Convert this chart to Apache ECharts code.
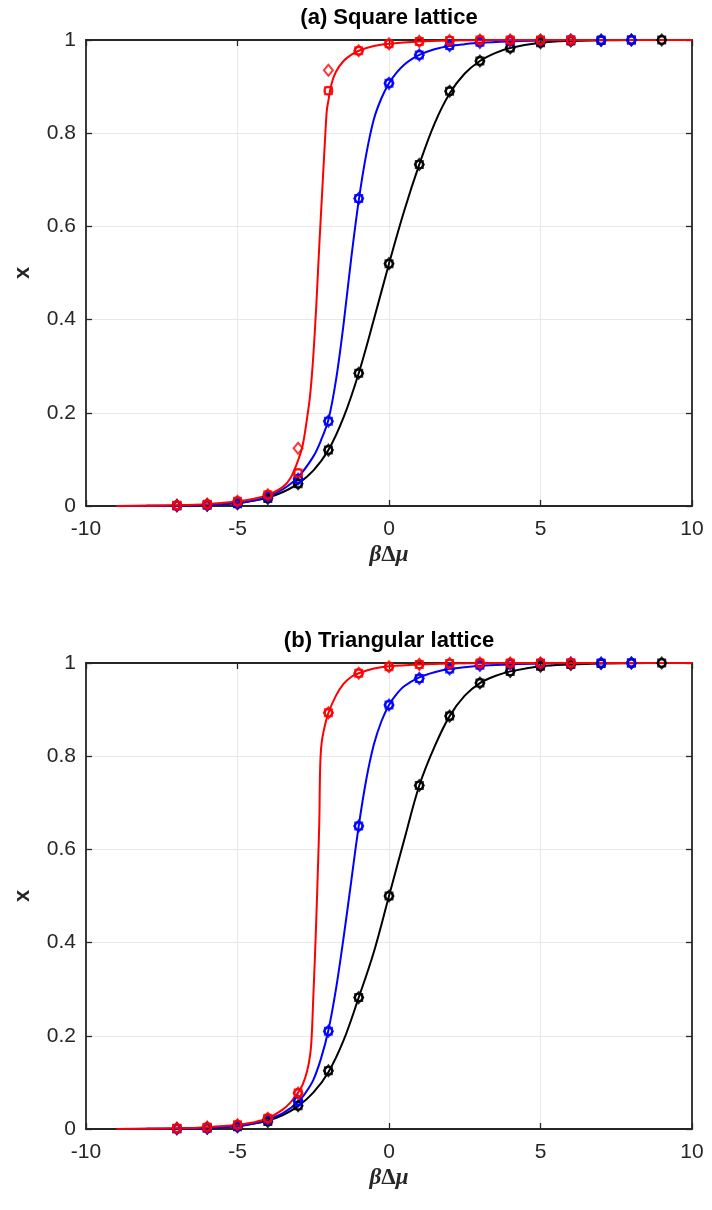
<!DOCTYPE html>
<html>
<head>
<meta charset="utf-8">
<script src="https://cdn.jsdelivr.net/npm/echarts@6/dist/echarts.min.js"></script>
<style>
html, body { margin: 0; padding: 0; background: #ffffff; }
#chart { width: 712px; height: 1210px; }
</style>
</head>
<body>
<div id="chart"></div>
<script>
// ---- Simulation points, x = βΔμ ----
const blackPtsX = [-7, -6, -5, -4, -3, -2, -1, 0, 1, 2, 3, 4, 5, 6, 7, 8, 9];
const bluePtsX  = [-7, -6, -5, -4, -3, -2, -1, 0, 1, 2, 3, 4, 5, 6, 7, 8];
const redPtsX   = [-7, -6, -5, -4, -3, -2, -1, 0, 1, 2, 3, 4, 5, 6];

// (a) square lattice
const sqBlackPts = [0.0008, 0.002, 0.005, 0.016, 0.048, 0.12, 0.285, 0.52, 0.733, 0.89, 0.955, 0.983, 0.994, 0.998, 0.999, 1, 1];
const sqBluePts  = [0.0008, 0.002, 0.006, 0.02, 0.058, 0.182, 0.66, 0.907, 0.968, 0.988, 0.995, 0.998, 0.999, 1, 1, 1];
const sqRedPts   = [0.0015, 0.004, 0.01, 0.024, 0.071, 0.891, 0.977, 0.992, 0.997, 0.999, 1, 1, 1, 1];
const sqRedPtsD  = [0.0015, 0.004, 0.01, 0.024, 0.124, 0.935, 0.977, 0.992, 0.997, 0.999, 1, 1, 1, 1];

// (b) triangular lattice
const triBlackPts = [0.0008, 0.002, 0.005, 0.016, 0.05, 0.125, 0.282, 0.5, 0.737, 0.886, 0.957, 0.982, 0.993, 0.997, 0.999, 1, 1];
const triBluePts  = [0.0008, 0.002, 0.006, 0.02, 0.06, 0.21, 0.65, 0.91, 0.967, 0.987, 0.995, 0.998, 0.999, 1, 1, 1];
const triRedPts   = [0.0015, 0.004, 0.009, 0.023, 0.077, 0.893, 0.978, 0.992, 0.997, 0.999, 1, 1, 1, 1];

// ---- Fitted curves ----
const sqBlackCurveX = [-9, -8, -7, -6, -5, -4.5, -4, -3.5, -3, -2.5, -2, -1.5, -1, -0.5, 0, 0.5, 1, 1.5, 2, 2.5, 3, 3.5, 4, 5, 6, 7, 8, 9, 10];
const sqBlackCurveY = [0.0001, 0.0003, 0.0009, 0.0025, 0.0068, 0.011, 0.018, 0.03, 0.048, 0.076, 0.12, 0.19, 0.285, 0.4, 0.52, 0.633, 0.733, 0.82, 0.885, 0.928, 0.955, 0.972, 0.983, 0.994, 0.998, 0.9993, 0.9998, 1, 1];

const sqBlueCurveX = [-9, -8, -7, -6, -5, -4.5, -4, -3.5, -3, -2.5, -2.25, -2, -1.75, -1.5, -1.25, -1, -0.75, -0.5, -0.25, 0, 0.25, 0.5, 0.75, 1, 1.5, 2, 2.5, 3, 4, 5, 6, 7, 10];
const sqBlueCurveY = [0.0001, 0.0003, 0.0008, 0.002, 0.0058, 0.011, 0.02, 0.036, 0.062, 0.106, 0.14, 0.185, 0.27, 0.39, 0.53, 0.655, 0.755, 0.83, 0.875, 0.907, 0.93, 0.947, 0.959, 0.968, 0.98, 0.987, 0.991, 0.994, 0.997, 0.999, 0.9995, 1, 1];

const sqRedCurveX = [-9, -8, -7, -6, -5, -4.5, -4, -3.5, -3.25, -3, -2.85, -2.7, -2.6, -2.5, -2.4, -2.3, -2.2, -2.1, -2.05, -2, -1.9, -1.75, -1.5, -1.25, -1, -0.5, 0, 1, 2, 3, 4, 10];
const sqRedCurveY = [0.0002, 0.0006, 0.0015, 0.004, 0.01, 0.015, 0.024, 0.041, 0.06, 0.098, 0.13, 0.19, 0.24, 0.32, 0.43, 0.56, 0.68, 0.8, 0.85, 0.87, 0.905, 0.932, 0.955, 0.968, 0.977, 0.987, 0.992, 0.997, 0.999, 0.9995, 1, 1];

const triBlackCurveX = [-9, -8, -7, -6, -5, -4.5, -4, -3.5, -3, -2.5, -2, -1.5, -1, -0.5, 0, 0.5, 1, 1.5, 2, 2.5, 3, 3.5, 4, 5, 6, 7, 8, 9, 10];
const triBlackCurveY = [0.0001, 0.0003, 0.0009, 0.0025, 0.0068, 0.011, 0.018, 0.03, 0.049, 0.078, 0.122, 0.19, 0.282, 0.38, 0.5, 0.62, 0.737, 0.82, 0.886, 0.93, 0.957, 0.972, 0.982, 0.993, 0.997, 0.999, 0.9997, 1, 1];

const triBlueCurveX = [-9, -8, -7, -6, -5, -4.5, -4, -3.5, -3, -2.75, -2.5, -2.25, -2, -1.75, -1.5, -1.25, -1, -0.75, -0.5, -0.25, 0, 0.25, 0.5, 1, 1.5, 2, 3, 4, 5, 6, 7, 10];
const triBlueCurveY = [0.0001, 0.0003, 0.0008, 0.002, 0.006, 0.011, 0.02, 0.034, 0.058, 0.078, 0.105, 0.15, 0.212, 0.3, 0.41, 0.53, 0.65, 0.75, 0.825, 0.875, 0.91, 0.933, 0.95, 0.969, 0.98, 0.987, 0.994, 0.997, 0.999, 0.9995, 1, 1];

const triRedCurveX = [-9, -8, -7, -6, -5, -4.5, -4, -3.5, -3.25, -3, -2.85, -2.7, -2.6, -2.55, -2.5, -2.45, -2.4, -2.35, -2.3, -2.27, -2.22, -2.1, -2, -1.75, -1.5, -1.25, -1, -0.5, 0, 1, 2, 3, 4, 10];
const triRedCurveY = [0.0002, 0.0006, 0.0015, 0.004, 0.009, 0.014, 0.023, 0.042, 0.057, 0.078, 0.095, 0.125, 0.16, 0.2, 0.28, 0.36, 0.45, 0.55, 0.66, 0.78, 0.83, 0.87, 0.893, 0.93, 0.955, 0.97, 0.978, 0.988, 0.993, 0.997, 0.999, 0.9995, 1, 1];

// ---- Tick labels / titles ----
const xTicks = [-10, -5, 0, 5, 10];
const yTicks = [0, 0.2, 0.4, 0.6, 0.8, 1];
const panelTitles = ['(a) Square lattice', '(b) Triangular lattice'];

const RED = '#ff0000', BLUE = '#0000ff', BLACK = '#000000';
const AXIS = '#262626';
const SANS = '"Liberation Sans", Arial, Helvetica, sans-serif';
const SERIF = '"Liberation Serif", "Times New Roman", serif';

const pairs = (xs, ys) => xs.map((x, i) => [x, ys[i]]);

function curve(xs, ys, color, idx) {
  return {
    type: 'line', xAxisIndex: idx, yAxisIndex: idx,
    data: pairs(xs, ys), showSymbol: false, smooth: 0.35,
    lineStyle: { color: color, width: 2 }, silent: true, z: 3
  };
}
function marks(xs, ys, color, symbol, size, idx) {
  return {
    type: 'scatter', xAxisIndex: idx, yAxisIndex: idx,
    data: pairs(xs, ys), symbol: symbol, symbolSize: size,
    itemStyle: { color: 'rgba(0,0,0,0)', borderColor: color, borderWidth: 2 },
    silent: true, z: 4
  };
}
function markerSet(xs, ys, ysD, color, idx) {
  return [
    marks(xs, ys, color, 'circle', 8, idx),
    marks(xs, ys, color, 'rect', 7, idx),
    marks(xs, ysD, color, 'diamond', [9, 11], idx)
  ];
}

const gridTops = [40, 663];
const PLOT_H = 466;

function bottomX(grid) {
  return {
    type: 'value', gridIndex: grid, position: 'bottom', min: -10, max: 10, interval: 5,
    axisLine: { show: true, onZero: false, lineStyle: { color: AXIS, width: 1.8 } },
    axisTick: { show: true, inside: true, length: 6, lineStyle: { color: AXIS, width: 1.3 } },
    axisLabel: { color: AXIS, fontSize: 21, fontFamily: SANS, margin: 13,
      formatter: v => (xTicks.includes(v) ? String(v) : '') },
    splitLine: { show: true, lineStyle: { color: '#e8e8e8', width: 1 } },
    name: '{b|β}{d|Δ}{b|μ}', nameLocation: 'middle', nameGap: 38,
    nameTextStyle: {
      rich: {
        b: { fontFamily: SERIF, fontStyle: 'italic', fontWeight: 'bold', fontSize: 23, color: AXIS },
        d: { fontFamily: SERIF, fontWeight: 'bold', fontSize: 23, color: AXIS }
      }
    }
  };
}
function topX(grid) {
  return {
    type: 'value', gridIndex: grid, position: 'top', min: -10, max: 10, interval: 5,
    axisLine: { show: true, onZero: false, lineStyle: { color: AXIS, width: 1.8 } },
    axisTick: { show: true, inside: true, length: 6, lineStyle: { color: AXIS, width: 1.3 } },
    axisLabel: { show: false }, splitLine: { show: false }
  };
}
function leftY(grid) {
  return {
    type: 'value', gridIndex: grid, position: 'left', min: 0, max: 1, interval: 0.2,
    axisLine: { show: true, onZero: false, lineStyle: { color: AXIS, width: 1.8 } },
    axisTick: { show: true, inside: true, length: 6, lineStyle: { color: AXIS, width: 1.3 } },
    axisLabel: { color: AXIS, fontSize: 21, fontFamily: SANS, margin: 10,
      formatter: v => { const t = yTicks.find(k => Math.abs(k - v) < 1e-9); return t === undefined ? '' : String(t); } },
    splitLine: { show: true, lineStyle: { color: '#e8e8e8', width: 1 } },
    name: 'x', nameLocation: 'middle', nameGap: 52, nameRotate: 90,
    nameTextStyle: { color: AXIS, fontSize: 22, fontWeight: 'bold', fontFamily: SANS }
  };
}
function rightY(grid) {
  return {
    type: 'value', gridIndex: grid, position: 'right', min: 0, max: 1, interval: 0.2,
    axisLine: { show: true, onZero: false, lineStyle: { color: AXIS, width: 1.8 } },
    axisTick: { show: true, inside: true, length: 6, lineStyle: { color: AXIS, width: 1.3 } },
    axisLabel: { show: false }, splitLine: { show: false }
  };
}

const chart = echarts.init(document.getElementById('chart'), null, { renderer: 'canvas' });

const series = [
  // (a) square lattice
  curve(sqBlackCurveX, sqBlackCurveY, BLACK, 0),
  ...markerSet(blackPtsX, sqBlackPts, sqBlackPts, BLACK, 0),
  curve(sqBlueCurveX, sqBlueCurveY, BLUE, 0),
  ...markerSet(bluePtsX, sqBluePts, sqBluePts, BLUE, 0),
  curve(sqRedCurveX, sqRedCurveY, RED, 0),
  ...markerSet(redPtsX, sqRedPts, sqRedPtsD, RED, 0),
  // (b) triangular lattice
  curve(triBlackCurveX, triBlackCurveY, BLACK, 2),
  ...markerSet(blackPtsX, triBlackPts, triBlackPts, BLACK, 2),
  curve(triBlueCurveX, triBlueCurveY, BLUE, 2),
  ...markerSet(bluePtsX, triBluePts, triBluePts, BLUE, 2),
  curve(triRedCurveX, triRedCurveY, RED, 2),
  ...markerSet(redPtsX, triRedPts, triRedPts, RED, 2)
];

chart.setOption({
  animation: false,
  backgroundColor: '#ffffff',
  grid: gridTops.map(t => ({ left: 86, right: 20, top: t, height: PLOT_H, containLabel: false })),
  xAxis: [bottomX(0), topX(0), bottomX(1), topX(1)],
  yAxis: [leftY(0), rightY(0), leftY(1), rightY(1)],
  graphic: panelTitles.map((txt, i) => ({
    type: 'text', x: 389, y: gridTops[i] - 22, z: 10,
    style: { text: txt, fill: '#000000', font: 'bold 22px ' + SANS, textAlign: 'center', textVerticalAlign: 'middle' }
  })),
  series: series
});
</script>
</body>
</html>
